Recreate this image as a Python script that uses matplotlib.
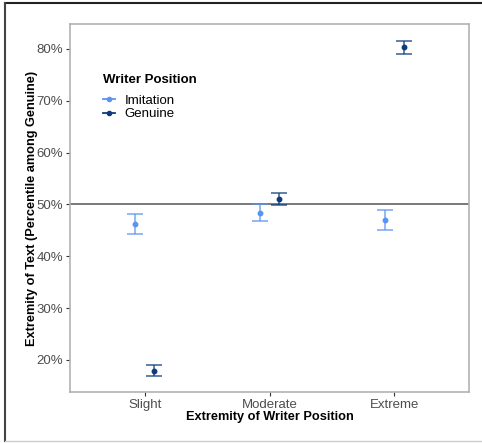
import numpy as np
import matplotlib.pyplot as plt
from matplotlib.lines import Line2D

plt.rcParams['font.family'] = ['Liberation Sans', 'DejaVu Sans']

# dados (percentil entre genuínos)
categorias = ['Slight', 'Moderate', 'Extreme']
imit_media = [46.2, 48.3, 47.0]
imit_sup = [48.1, 50.1, 49.0]
imit_inf = [44.2, 46.7, 45.1]
gen_media = [17.9, 51.0, 80.4]
gen_sup = [19.0, 52.2, 81.6]
gen_inf = [16.9, 49.9, 79.1]

cor_imit = '#5A93F2'
cor_gen = '#0D3B7D'

fig = plt.figure(figsize=(4.82, 4.43), dpi=100)
ax = fig.add_axes([0.1452, 0.1151, 0.828, 0.8307])

x = np.arange(1, len(categorias) + 1)
dx = 0.075

for xs, med, sup, inf, cor in [(x - dx, imit_media, imit_sup, imit_inf, cor_imit),
                               (x + dx, gen_media, gen_sup, gen_inf, cor_gen)]:
    med = np.array(med)
    err = [med - np.array(inf), np.array(sup) - med]
    ax.errorbar(xs, med, yerr=err, fmt='none', ecolor=cor, elinewidth=1.3,
                capsize=6, capthick=1.3, alpha=0.7, zorder=3)
    ax.plot(xs, med, 'o', color=cor, markersize=3.2, zorder=4)

ax.axhline(50, color='#555555', linewidth=1.1, zorder=2)

ax.set_xlim(0.4, 3.6)
ax.set_ylim(13.8, 84.8)
ax.set_xticks(x)
ax.set_xticklabels(categorias)
ax.set_yticks([20, 30, 40, 50, 60, 70, 80])
ax.set_yticklabels([f'{v}%' for v in [20, 30, 40, 50, 60, 70, 80]])
ax.tick_params(axis='both', colors='#333333', labelcolor='#4D4D4D',
               labelsize=9.5, length=3, width=0.8, pad=2)
for s in ax.spines.values():
    s.set_color('#B3B3B3')
    s.set_linewidth(1.2)

ax.set_xlabel('Extremity of Writer Position', fontsize=9.2, fontweight='bold', labelpad=0)
ax.set_ylabel('Extremity of Text (Percentile among Genuine)', fontsize=9.2,
              fontweight='bold', labelpad=-1)

handles = [Line2D([0], [0], color=cor_imit, marker='o', markersize=3, linewidth=1.3),
           Line2D([0], [0], color=cor_gen, marker='o', markersize=3, linewidth=1.3)]
leg = ax.legend(handles, ['Imitation', 'Genuine'], title='Writer Position',
                loc='upper left', bbox_to_anchor=(0.214, 0.833), bbox_transform=fig.transFigure,
                frameon=False, fontsize=9.5, handlelength=0.9, handletextpad=0.7,
                labelspacing=0.12, borderaxespad=0, borderpad=0)
leg.get_title().set_fontweight('bold')
leg.get_title().set_fontsize(9.5)
leg._legend_box.align = 'left'
leg._legend_box.sep = 6

# moldura externa da figura
fig.add_artist(Line2D([0.011, 1.0], [0.993, 0.993], color='#222222', linewidth=1.5,
                      transform=fig.transFigure))
fig.add_artist(Line2D([0.011, 0.011], [0.004, 0.993], color='#444444', linewidth=1.5,
                      transform=fig.transFigure))
fig.add_artist(Line2D([0.011, 1.0], [0.004, 0.004], color='#CCCCCC', linewidth=1.0,
                      transform=fig.transFigure))

fig.savefig('out.png', dpi=100)
